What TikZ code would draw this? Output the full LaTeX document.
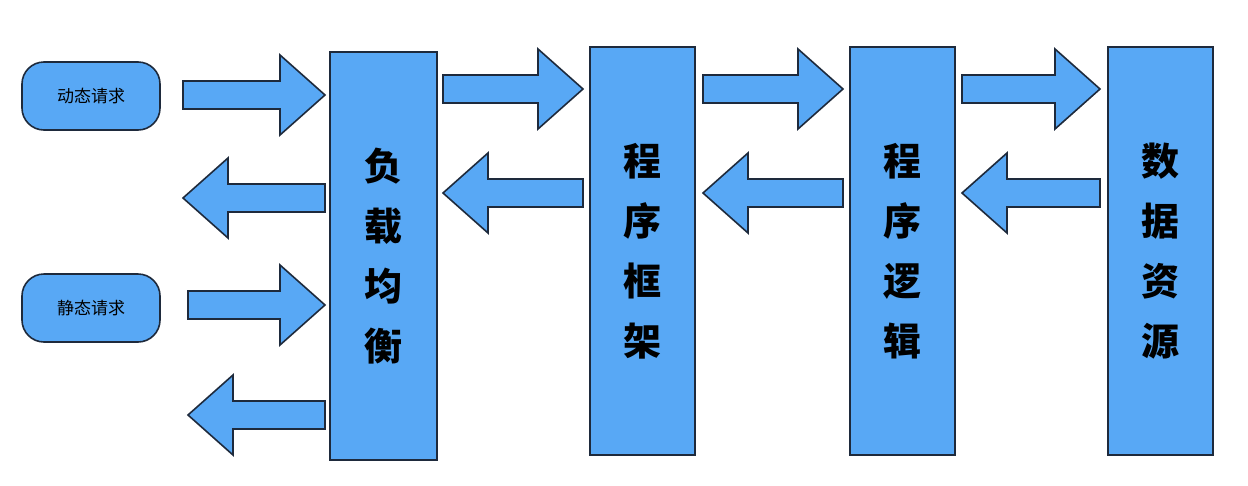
\documentclass[tikz,border=0pt]{standalone}
\usepackage{fontspec}
\newfontfamily\cjk{Noto Sans CJK SC}
\definecolor{fillb}{HTML}{58A8F5}
\definecolor{edge}{HTML}{1E2A3C}
\begin{document}
\begin{tikzpicture}[x=1pt,y=-1pt,
  blk/.style={draw=edge,fill=fillb,line width=1.6pt},
  pill/.style={draw=edge,fill=fillb,line width=1.6pt,rounded corners=22pt,minimum width=138pt,minimum height=68pt,font=\cjk\fontsize{17}{17}\selectfont},
  big/.style={font=\cjk\bfseries\fontsize{38}{60}\selectfont,align=center}]
\useasboundingbox (0,0) rectangle (1248,485);
\newcommand\rarr[3]{\draw[blk] (#1,#3-14) -- (#2-45,#3-14) -- (#2-45,#3-40) -- (#2,#3) -- (#2-45,#3+40) -- (#2-45,#3+14) -- (#1,#3+14) -- cycle;}
\newcommand\larr[3]{\draw[blk] (#2,#3-14) -- (#1+45,#3-14) -- (#1+45,#3-40) -- (#1,#3) -- (#1+45,#3+40) -- (#1+45,#3+14) -- (#2,#3+14) -- cycle;}
\node[pill] (dyn) at (91,96) {动态请求};
\node[pill] (sta) at (91,308) {静态请求};
\node[blk,minimum width=107pt,minimum height=408pt,big] (lb) at (383.5,256) {负\\载\\均\\衡};
\node[blk,minimum width=105pt,minimum height=408pt,big] (fw) at (642.5,251) {程\\序\\框\\架};
\node[blk,minimum width=105pt,minimum height=408pt,big] (lg) at (902.5,251) {程\\序\\逻\\辑};
\node[blk,minimum width=105pt,minimum height=408pt,big] (ds) at (1160.5,251) {数\\据\\资\\源};
\rarr{183}{325}{95}
\larr{183}{325}{198}
\rarr{188}{325}{305}
\larr{188}{325}{415}
\rarr{443}{583}{89}
\larr{443}{583}{193}
\rarr{703}{843}{89}
\larr{703}{843}{193}
\rarr{962}{1100}{89}
\larr{962}{1100}{193}
\end{tikzpicture}
\end{document}
